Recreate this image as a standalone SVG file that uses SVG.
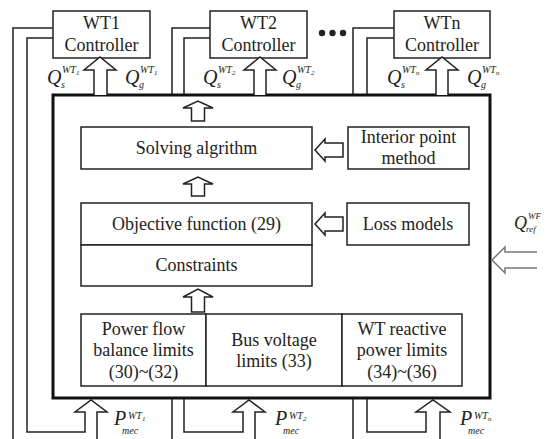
<svg xmlns="http://www.w3.org/2000/svg" width="551" height="439" viewBox="0 0 551 439">
  <defs>
    <style>
      .box { fill: #fff; stroke: #222; stroke-width: 1.5; }
      .main { fill: #fff; stroke: #111; stroke-width: 3; }
      .wire { fill: none; stroke: #222; stroke-width: 1.5; stroke-linejoin: miter; }
      .barrow { fill: #fff; stroke: #222; stroke-width: 1.5; stroke-linejoin: miter; }
      .grey { fill: none; stroke: #777; stroke-width: 1.5; }
      text { font-family: "Liberation Serif", "DejaVu Serif", serif; fill: #222; }
      .t { font-size: 18px; text-anchor: middle; }
      .mi { font-style: italic; }
      .big { font-size: 20px; }
      .sm { font-size: 10px; }
      .xs { font-size: 7px; }
    </style>
  </defs>
  <rect width="551" height="439" fill="#fff"/>

  <!-- feedback wiring from each controller around to its P_mec input -->
  <g id="connectors-back">
    <path class="wire" d="M53,28 H13 V439"/>
    <path class="wire" d="M53,38 H27 V432 H85 V412 H75 L91,400 L107,412 H97 V439"/>
    <path class="wire" d="M210,28 H172 V439"/>
    <path class="wire" d="M210,38 H184 V432 H243 V412 H233 L249,400 L265,412 H255 V439"/>
    <path class="wire" d="M394,28 H353 V439"/>
    <path class="wire" d="M394,38 H367 V432 H426 V412 H416 L433,400 L450,412 H440 V439"/>
  </g>

  <!-- controllers -->
  <g id="wt1">
    <rect class="box" x="53" y="11" width="97" height="47"/>
    <text class="t" x="101.5" y="29">WT1</text>
    <text class="t" x="101.5" y="51">Controller</text>
  </g>
  <g id="wt2">
    <rect class="box" x="210" y="11" width="97" height="47"/>
    <text class="t" x="258.5" y="29">WT2</text>
    <text class="t" x="258.5" y="51">Controller</text>
  </g>
  <g id="ellipsis">
    <circle cx="322" cy="33" r="3.2" fill="#222"/>
    <circle cx="332.5" cy="33" r="3.2" fill="#222"/>
    <circle cx="343" cy="33" r="3.2" fill="#222"/>
  </g>
  <g id="wtn">
    <rect class="box" x="394" y="11" width="96" height="47"/>
    <text class="t" x="442" y="29">WTn</text>
    <text class="t" x="442" y="51">Controller</text>
  </g>

  <!-- optimisation block -->
  <g id="optimizer">
    <rect class="main" x="53" y="95" width="437" height="303"/>
  </g>
  <g id="solving">
    <rect class="box" x="81" y="127" width="231" height="42"/>
    <text class="t" x="196.5" y="154">Solving algrithm</text>
  </g>
  <g id="interior-point">
    <rect class="box" x="348" y="127" width="121" height="42"/>
    <text class="t" x="408.5" y="143">Interior point</text>
    <text class="t" x="408.5" y="164">method</text>
  </g>
  <g id="objective">
    <rect class="box" x="81" y="203" width="231" height="42"/>
    <text class="t" x="196.5" y="230">Objective function (29)</text>
  </g>
  <g id="constraints">
    <rect class="box" x="81" y="245" width="231" height="41"/>
    <text class="t" x="196.5" y="271">Constraints</text>
  </g>
  <g id="loss-models">
    <rect class="box" x="347" y="203" width="122" height="42"/>
    <text class="t" x="408" y="230">Loss models</text>
  </g>
  <g id="power-flow">
    <rect class="box" x="81" y="314" width="125" height="72"/>
    <text class="t" x="143.5" y="335">Power flow</text>
    <text class="t" x="143.5" y="356">balance limits</text>
    <text class="t" x="143.5" y="378">(30)~(32)</text>
  </g>
  <g id="bus-voltage">
    <rect class="box" x="206" y="314" width="136" height="72"/>
    <text class="t" x="274" y="346">Bus voltage</text>
    <text class="t" x="274" y="367">limits (33)</text>
  </g>
  <g id="wt-reactive">
    <rect class="box" x="342" y="314" width="120" height="72"/>
    <text class="t" x="402" y="335">WT reactive</text>
    <text class="t" x="402" y="356">power limits</text>
    <text class="t" x="402" y="378">(34)~(36)</text>
  </g>

  <!-- hollow block arrows -->
  <g id="connectors">
    <path class="barrow" d="M94,95 V70 H84 L100,57 L116,70 H107 V95"/>
    <path class="barrow" d="M254,95 V70 H244 L260,57 L276,70 H266 V95"/>
    <path class="barrow" d="M436,95 V70 H426 L442,57 L458,70 H448 V95"/>
    <path class="barrow" d="M191.5,121 V108 H183 L198,101 L213,108 H204.5 V121 Z"/>
    <path class="barrow" d="M191.5,196 V184 H183 L198,177 L213,184 H204.5 V196 Z"/>
    <path class="barrow" d="M191.5,312 V297 H183 L198,289 L213,297 H204.5 V312 Z"/>
    <path class="barrow" d="M343,143 H325 V139 L315,150 L325,161 V157 H343 Z"/>
    <path class="barrow" d="M343,217 H325 V213 L315,224 L325,235 V231 H343 Z"/>
    <path class="grey" d="M537,252 H505 V247 L492,260 L505,273 V268 H537"/>
  </g>

  <!-- signal labels -->
  <g id="labels">
    <g transform="translate(47,84)">
      <text class="mi big" x="0" y="0">Q</text>
      <text class="mi sm" x="15" y="-11">WT</text><text class="mi xs" x="29" y="-9">1</text>
      <text class="mi sm" x="14" y="4">s</text>
    </g>
    <g transform="translate(125,84)">
      <text class="mi big" x="0" y="0">Q</text>
      <text class="mi sm" x="15" y="-11">WT</text><text class="mi xs" x="29" y="-9">1</text>
      <text class="mi sm" x="14" y="4">g</text>
    </g>
    <g transform="translate(203,84)">
      <text class="mi big" x="0" y="0">Q</text>
      <text class="mi sm" x="15" y="-11">WT</text><text class="mi xs" x="29" y="-9">2</text>
      <text class="mi sm" x="14" y="4">s</text>
    </g>
    <g transform="translate(282,84)">
      <text class="mi big" x="0" y="0">Q</text>
      <text class="mi sm" x="15" y="-11">WT</text><text class="mi xs" x="29" y="-9">2</text>
      <text class="mi sm" x="14" y="4">g</text>
    </g>
    <g transform="translate(387,84)">
      <text class="mi big" x="0" y="0">Q</text>
      <text class="mi sm" x="15" y="-11">WT</text><text class="mi xs" x="29" y="-9">n</text>
      <text class="mi sm" x="14" y="4">s</text>
    </g>
    <g transform="translate(467,84)">
      <text class="mi big" x="0" y="0">Q</text>
      <text class="mi sm" x="15" y="-11">WT</text><text class="mi xs" x="29" y="-9">n</text>
      <text class="mi sm" x="14" y="4">g</text>
    </g>
    <g transform="translate(514,229)">
      <text class="mi" font-size="18" x="0" y="0">Q</text>
      <text class="mi" font-size="9" x="14" y="-10">WF</text>
      <text class="mi" font-size="9" x="12" y="3">ref</text>
    </g>
    <g transform="translate(114,425)">
      <text class="mi big" x="0" y="0">P</text>
      <text class="mi sm" x="14" y="-6">WT</text><text class="mi xs" x="28" y="-4">1</text>
      <text class="mi sm" x="8" y="9">mec</text>
    </g>
    <g transform="translate(275,425)">
      <text class="mi big" x="0" y="0">P</text>
      <text class="mi sm" x="14" y="-6">WT</text><text class="mi xs" x="28" y="-4">2</text>
      <text class="mi sm" x="8" y="9">mec</text>
    </g>
    <g transform="translate(460,425)">
      <text class="mi big" x="0" y="0">P</text>
      <text class="mi sm" x="14" y="-6">WT</text><text class="mi xs" x="28" y="-4">n</text>
      <text class="mi sm" x="8" y="9">mec</text>
    </g>
  </g>
</svg>
